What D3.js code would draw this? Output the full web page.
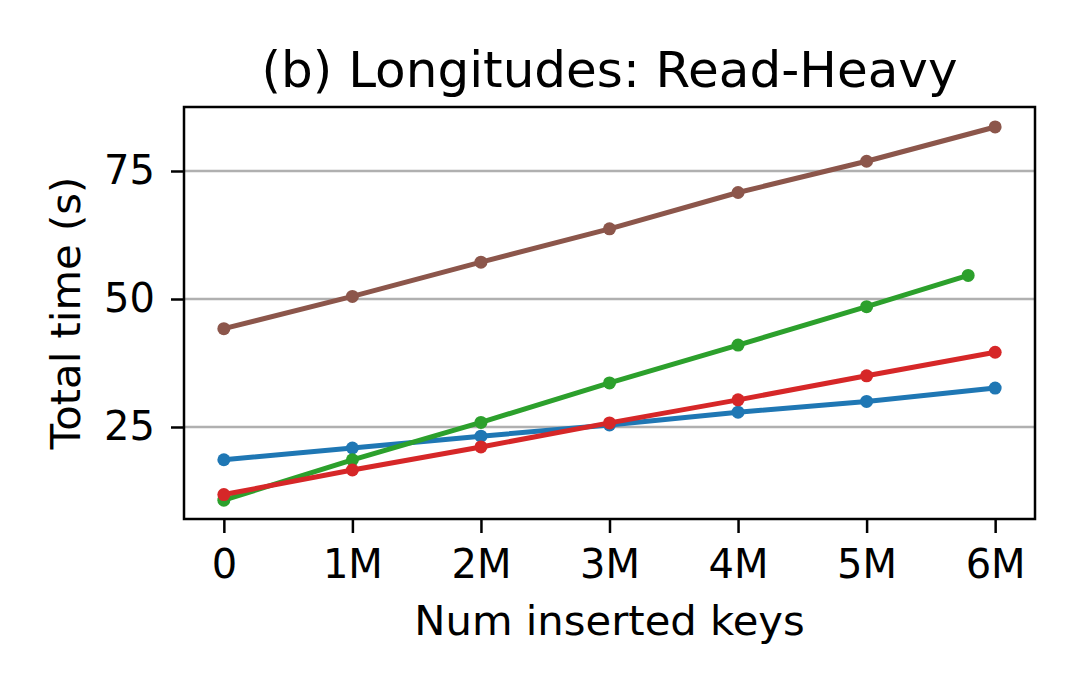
<!DOCTYPE html>
<html lang="en">
  <head>
    <meta charset="UTF-8" />
    <title>Longitudes: Read-Heavy</title>
    <script src="https://d3js.org/d3.v7.min.js"></script>
    <style>
      body { margin: 0; background: #fff; }
      text { font-family: "DejaVu Sans", sans-serif; fill: #000; }
    </style>
  </head>
  <body>
    <div class="chart"></div>
  </body>

  <script>
    // data (seconds per number of inserted keys)
    var keys = [0, 1e6, 2e6, 3e6, 4e6, 5e6, 6e6];
    var greenKeys = [0, 1e6, 2e6, 3e6, 4e6, 5e6, 5.79e6];
    var blueTimes = [18.6, 20.9, 23.2, 25.4, 27.9, 30.0, 32.6];
    var greenTimes = [10.7, 18.6, 25.9, 33.6, 41.0, 48.5, 54.6];
    var redTimes = [11.8, 16.6, 21.1, 25.8, 30.3, 35.0, 39.6];
    var brownTimes = [44.2, 50.5, 57.2, 63.7, 70.8, 76.9, 83.6];
    var xTicks = [0, 1e6, 2e6, 3e6, 4e6, 5e6, 6e6];
    var xTickLabels = ["0", "1M", "2M", "3M", "4M", "5M", "6M"];
    var yTicks = [25, 50, 75];

    var series = [
      { color: "#1f77b4", xs: keys, ys: blueTimes },
      { color: "#2ca02c", xs: greenKeys, ys: greenTimes },
      { color: "#d62728", xs: keys, ys: redTimes },
      { color: "#8c564b", xs: keys, ys: brownTimes }
    ];

    var margin = { top: 107, right: 45, bottom: 171, left: 184 };
    var width = 1080 - margin.left - margin.right;
    var height = 690 - margin.top - margin.bottom;

    var svgRoot = d3
      .select(".chart")
      .append("svg")
      .attr("width", 1080)
      .attr("height", 690);

    var svg = svgRoot
      .append("g")
      .attr("transform", "translate(" + margin.left + "," + margin.top + ")");

    var xScale = d3.scaleLinear().domain([-0.31e6, 6.31e6]).range([0, width]);
    var yScale = d3.scaleLinear().domain([7.03, 87.5]).range([height, 0]);

    // grid
    svg
      .selectAll(".grid")
      .data(yTicks)
      .enter()
      .append("line")
      .attr("x1", 0)
      .attr("x2", width)
      .attr("y1", (d) => yScale(d))
      .attr("y2", (d) => yScale(d))
      .attr("stroke", "#b0b0b0")
      .attr("stroke-width", 2.7);

    // axes
    var xAxis = d3
      .axisBottom(xScale)
      .tickValues(xTicks)
      .tickFormat((d, i) => xTickLabels[i])
      .tickSize(14)
      .tickPadding(17);
    var gx = svg
      .append("g")
      .attr("transform", "translate(0," + height + ")")
      .call(xAxis);

    var yAxis = d3.axisLeft(yScale).tickValues(yTicks).tickSize(13).tickPadding(16);
    var gy = svg.append("g").call(yAxis);

    [gx, gy].forEach(function (g) {
      g.select(".domain").remove();
      g.selectAll(".tick line").attr("stroke", "#000").attr("stroke-width", 2.5);
      g.selectAll(".tick text").style("font-size", "40px").attr("fill", "#000");
    });
    gx.selectAll(".tick text").attr("dy", "0.71em");

    // lines + markers
    var line = d3
      .line()
      .x((d) => xScale(d[0]))
      .y((d) => yScale(d[1]));

    series.forEach(function (s) {
      var pts = s.xs.map((x, i) => [x, s.ys[i]]);
      var g = svg.append("g");
      g.append("path")
        .datum(pts)
        .attr("fill", "none")
        .attr("stroke", s.color)
        .attr("stroke-width", 5)
        .attr("stroke-linejoin", "round")
        .attr("d", line);
      g.selectAll("circle")
        .data(pts)
        .enter()
        .append("circle")
        .attr("cx", (d) => xScale(d[0]))
        .attr("cy", (d) => yScale(d[1]))
        .attr("r", 6.5)
        .attr("fill", s.color);
    });

    // frame
    svg
      .append("rect")
      .attr("width", width)
      .attr("height", height)
      .attr("fill", "none")
      .attr("stroke", "#000")
      .attr("stroke-width", 2.5);

    // labels
    svgRoot
      .append("text")
      .attr("x", margin.left + width / 2)
      .attr("y", 87)
      .attr("text-anchor", "middle")
      .style("font-size", "50px")
      .text("(b) Longitudes: Read-Heavy");

    svgRoot
      .append("text")
      .attr("x", margin.left + width / 2)
      .attr("y", 635)
      .attr("text-anchor", "middle")
      .style("font-size", "41.7px")
      .text("Num inserted keys");

    svgRoot
      .append("text")
      .attr("transform", "translate(80," + (margin.top + height / 2) + ") rotate(-90)")
      .attr("text-anchor", "middle")
      .style("font-size", "41.7px")
      .text("Total time (s)");
  </script>
</html>
